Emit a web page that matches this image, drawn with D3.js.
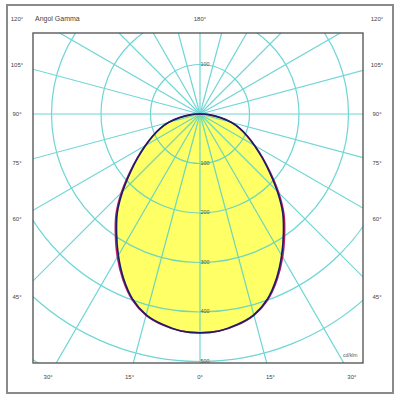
<!DOCTYPE html>
<html><head><meta charset="utf-8">
<script src="https://cdn.jsdelivr.net/npm/d3@7"></script>
<style>html,body{margin:0;padding:0;background:#fff}svg{display:block}</style>
</head><body>
<svg id="c" width="400" height="400"></svg>
<script>
// Data
const gammaAngles = [0,5,10,15,20,25,30,35,40,45,50,55,60,65,70,75,80,85,90];
const intensityC0 = [442,440,432,420,398,366,330,294,260,221,184,153,127,105,86,66,42,20,3];
const intensityC90 = [442,440,433,421,400,369,334,298,264,225,187,155,128,106,86,66,42,20,3];
const ringValues = [100,200,300,400,500,600,700];
const ringLabels = ["100","200","300","400","500"];
const sideLabelAngles = [45,60,75,90,105,120];
const bottomLabelAngles = [30,15,0,15,30];
const bottomLabelSides = [-1,-1,0,1,1];
const titleText = "Angol Gamma";
const unitText = "cd/klm";

const svg = d3.select("#c");
const cx = 200, cy = 114;
const box = {x0:33, y0:33, x1:363, y1:363};
const r = d3.scaleLinear().domain([0,500]).range([0,247.5]);
const rad = d => d*Math.PI/180;

// outer frame
svg.append("rect").attr("x",7).attr("y",5).attr("width",386).attr("height",388)
  .attr("fill","#fff").attr("stroke","#8a8a8a").attr("stroke-width",2);

svg.append("defs").append("clipPath").attr("id","clip")
  .append("rect").attr("x",box.x0).attr("y",box.y0).attr("width",box.x1-box.x0).attr("height",box.y1-box.y0);

const g = svg.append("g").attr("clip-path","url(#clip)");

// curve builder: gamma measured from downward vertical
function pts(vals){
  const left = gammaAngles.map((a,i)=>({a:-a, v:vals[i]})).reverse();
  const right = gammaAngles.slice(1).map((a,i)=>({a:a, v:vals[i+1]}));
  return left.concat(right);
}
const line = d3.lineRadial()
  .angle(d => Math.PI - rad(d.a))
  .radius(d => r(d.v))
  .curve(d3.curveCatmullRomClosed);

// fill
g.append("path").attr("transform",`translate(${cx},${cy})`)
  .attr("d", line(pts(intensityC0))).attr("fill","#ffff66").attr("stroke","none");

// grid
const grid = g.append("g").attr("stroke","#4ccccc").attr("stroke-width",1.2).attr("fill","none").attr("opacity",0.8);
grid.selectAll("circle").data(ringValues).join("circle")
  .attr("cx",cx).attr("cy",cy).attr("r",d=>r(d));
const spokes = d3.range(0,360,15);
grid.selectAll("line").data(spokes).join("line")
  .attr("x1",cx).attr("y1",cy)
  .attr("x2",d=>cx+Math.sin(rad(d))*r(800))
  .attr("y2",d=>cy+Math.cos(rad(d))*r(800));

// curves
g.append("path").attr("transform",`translate(${cx},${cy})`)
  .attr("d", line(pts(intensityC90))).attr("fill","none").attr("stroke","#b8206a").attr("stroke-width",1.5);
g.append("path").attr("transform",`translate(${cx},${cy})`)
  .attr("d", line(pts(intensityC0))).attr("fill","none").attr("stroke","#1c1c6c").attr("stroke-width",1.7);

// ring labels
const lab = svg.append("g").attr("font-family","Liberation Sans, Arial, sans-serif").attr("fill","#555533").attr("font-size","5.5px");
lab.selectAll("text.rl").data(ringLabels).join("text").attr("class","rl")
  .attr("x",cx+5).attr("y",d=>cy+r(+d)).attr("text-anchor","middle").attr("dominant-baseline","middle").text(d=>d);
lab.append("text").attr("x",cx+5).attr("y",cy-r(100)).attr("text-anchor","middle").attr("dominant-baseline","middle").text(ringLabels[0]);
lab.append("text").attr("x",343).attr("y",356).attr("font-size","5px").attr("fill","#555").attr("dominant-baseline","middle").text(unitText);

// inner box
svg.append("rect").attr("x",box.x0).attr("y",box.y0).attr("width",box.x1-box.x0).attr("height",box.y1-box.y0)
  .attr("fill","none").attr("stroke","#5a5a5a").attr("stroke-width",1.4);

// angle labels on the outer ring
const ang = svg.append("g").attr("font-family","Liberation Sans, Arial, sans-serif").attr("fill","#444").attr("font-size","6px")
  .attr("text-anchor","middle").attr("dominant-baseline","middle");
const colL = 17, colR = 383, rowT = 19, rowB = 377;
function sideY(a){ const t=(cx-colL)/Math.sin(rad(a)); return Math.max(rowT, cy + t*Math.cos(rad(a))); }
ang.selectAll("text.l").data(sideLabelAngles).join("text").attr("class","l")
  .attr("x",colL).attr("y",d=>sideY(d)).text(d=>d+"°");
ang.selectAll("text.r").data(sideLabelAngles).join("text").attr("class","r")
  .attr("x",colR-6).attr("y",d=>sideY(d)).text(d=>d+"°");
ang.selectAll("text.b").data(bottomLabelAngles).join("text").attr("class","b")
  .attr("x",(d,i)=>cx + bottomLabelSides[i]*(rowB-cy)*Math.tan(rad(d)))
  .attr("y",rowB).text(d=>d+"°");
ang.append("text").attr("x",cx).attr("y",rowT).text("180°");
ang.append("text").attr("x",35).attr("y",rowT).attr("text-anchor","start").attr("font-size","7px").text(titleText);
</script>
</body></html>
